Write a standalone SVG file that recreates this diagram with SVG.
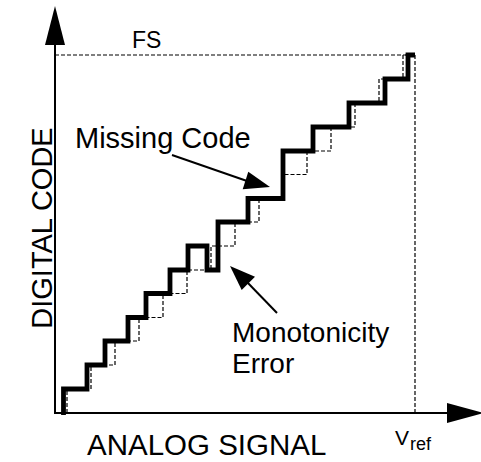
<svg xmlns="http://www.w3.org/2000/svg" width="481" height="462" viewBox="0 0 481 462">
  <style>
    text { font-family: "Liberation Sans", Arial, sans-serif; fill: #000; }
    .axis { stroke: #000; stroke-width: 2; fill: none; }
    .dash { stroke: #000; stroke-width: 1.2; fill: none; stroke-dasharray: 4 2; }
    .actual { stroke: #000; stroke-width: 4.8; fill: none; stroke-linejoin: miter; }
    .lead { stroke: #000; stroke-width: 2; fill: none; }
    .head { fill: #000; stroke: none; }
  </style>

  <!-- full-scale reference lines -->
  <g id="full-scale">
    <path class="dash" d="M55,55 H415 V413"/>
    <text x="132" y="48" font-size="23">FS</text>
  </g>

  <!-- ideal transfer function -->
  <g id="ideal-staircase">
    <path class="dash" d="M55,413 H67 V389 H91 V365 H115 V341 H139 V317.5 H163 V293.5 H187 V270 H211 V246 H235 V222 H259 V198.5 H283 V174.5 H307 V151 H331 V127 H355 V103 H379 V79 H403 V55 H415"/>
  </g>

  <!-- actual transfer function with non-monotonic step and missing code -->
  <g id="actual-staircase">
    <path class="actual" d="M63.5,415 V389 H87 V365 H105 V341 H128 V317.5 H146 V293.5 H170 V270 H188 V246 H207 V270 H218 V222 H248 V198.5 H283 V151 H313 V127 H349 V103 H385 V79 H408 V55 H415"/>
  </g>

  <!-- axes -->
  <g id="y-axis">
    <line class="axis" x1="55" y1="413" x2="55" y2="44"/>
    <polygon class="head" points="55,6 45,45 65,45"/>
    <text transform="translate(52,228) rotate(-90)" text-anchor="middle" font-size="29">DIGITAL CODE</text>
  </g>
  <g id="x-axis">
    <line class="axis" x1="54" y1="413" x2="448" y2="413"/>
    <polygon class="head" points="447,403 447,423 484,413"/>
    <text x="87" y="455" font-size="29.5">ANALOG SIGNAL</text>
    <text x="395" y="445" font-size="21">V<tspan x="410" y="450" font-size="18">ref</tspan></text>
  </g>

  <!-- annotations -->
  <g id="missing-code">
    <text x="75" y="148" font-size="29">Missing Code</text>
  </g>
  <g id="monotonicity-error">
    <text x="232" y="342" font-size="28">Monotonicity</text>
    <text x="232" y="373" font-size="28">Error</text>
  </g>

  <g id="connectors">
    <line class="lead" x1="172" y1="155" x2="247" y2="181"/>
    <polygon class="head" points="270,187 248.3,171.7 242.7,189.3"/>
    <line class="lead" x1="277" y1="313" x2="247" y2="282"/>
    <polygon class="head" points="230,266 255,276.7 241.7,290"/>
  </g>
</svg>
